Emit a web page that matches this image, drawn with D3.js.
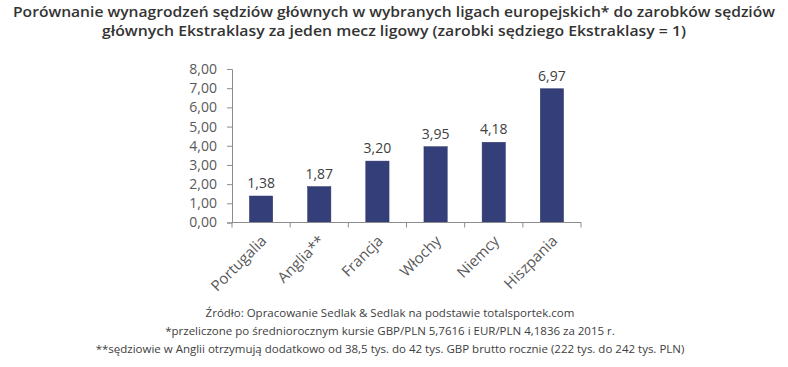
<!DOCTYPE html>
<html><head><meta charset="utf-8">
<script src="https://cdn.jsdelivr.net/npm/d3@7"></script>
<style>body{margin:0;background:#fff}</style>
</head><body>
<svg id="c" width="788" height="367"></svg>
<script>
const categories = ["Portugalia","Anglia**","Francja","Włochy","Niemcy","Hiszpania"];
const values = [1.38,1.87,3.20,3.95,4.18,6.97];
const yTicks = [0,1,2,3,4,5,6,7,8];
const titleLines = ["Porównanie wynagrodzeń sędziów głównych w wybranych ligach europejskich* do zarobków sędziów",
  "głównych Ekstraklasy za jeden mecz ligowy (zarobki sędziego Ekstraklasy = 1)"];
const notes = ["Źródło: Opracowanie Sedlak & Sedlak na podstawie totalsportek.com",
  "*przeliczone po średniorocznym kursie GBP/PLN 5,7616 i EUR/PLN 4,1836 za 2015 r.",
  "**sędziowie w Anglii otrzymują dodatkowo od 38,5 tys. do 42 tys. GBP brutto rocznie (222 tys. do 242 tys. PLN)"];

const svg = d3.select("#c");
const fmt = v => d3.format(".2f")(v).replace(".", ",");
const x = d3.scaleBand().domain(categories).range([232, 581]).paddingInner(0.6).paddingOuter(0.3);
const y = d3.scaleLinear().domain([0, 8]).range([222.5, 69]);

// title
svg.selectAll("text.title").data(titleLines).enter().append("text")
  .attr("x", 394).attr("y", (d,i)=>17+i*18.5).attr("text-anchor","middle")
  .attr("font-family","Open Sans").attr("font-weight","600").attr("font-size",14)
  .attr("fill","#333")
  .attr("textLength",(d,i)=> i===0?762:584).attr("lengthAdjust","spacingAndGlyphs")
  .text(d=>d);

// bars
svg.selectAll("rect.bar").data(values).enter().append("rect")
  .attr("x",(d,i)=>x(categories[i])).attr("width",x.bandwidth())
  .attr("y",d=>y(d)).attr("height",d=>y(0)-y(d))
  .attr("fill","#343e79").attr("stroke","#2a3368").attr("stroke-width",0.5);

// data labels
svg.selectAll("text.lab").data(values).enter().append("text")
  .attr("x",(d,i)=>x(categories[i])+x.bandwidth()/2).attr("y",d=>y(d)-8)
  .attr("text-anchor","middle").attr("font-family","Open Sans").attr("font-size",14)
  .attr("fill","#404040").text(fmt);

// y axis
const ya = svg.append("g").attr("transform","translate(232,0)")
  .call(d3.axisLeft(y).tickValues(yTicks).tickFormat(fmt).tickSize(5).tickSizeOuter(5).tickPadding(10));
ya.selectAll("text").attr("font-family","Open Sans").attr("font-size",14).attr("fill","#595959");
ya.selectAll("line,path").attr("stroke","#8c8c8c");

// x axis
const xa = svg.append("g").attr("transform","translate(0,222.5)");
xa.append("line").attr("x1",232).attr("x2",581).attr("stroke","#8c8c8c");
const edges = d3.range(categories.length+1).map(i=>232+349/6*i);
xa.selectAll("line.t").data(edges).enter().append("line")
  .attr("x1",d=>d).attr("x2",d=>d).attr("y1",0).attr("y2",5).attr("stroke","#8c8c8c");
xa.selectAll("text").data(categories).enter().append("text")
  .attr("transform",(d,i)=>`translate(${x(d)+x.bandwidth()/2-1},12) rotate(-45)`)
  .attr("text-anchor","end").attr("dy","0.7em")
  .attr("font-family","Open Sans").attr("font-size",15).attr("fill","#595959").text(d=>d);

// notes
svg.selectAll("text.note").data(notes).enter().append("text")
  .attr("x",390).attr("y",(d,i)=>317+i*18).attr("text-anchor","middle")
  .attr("font-family","Open Sans").attr("font-size",11.5).attr("fill","#404040").text(d=>d);
</script>
</body></html>
